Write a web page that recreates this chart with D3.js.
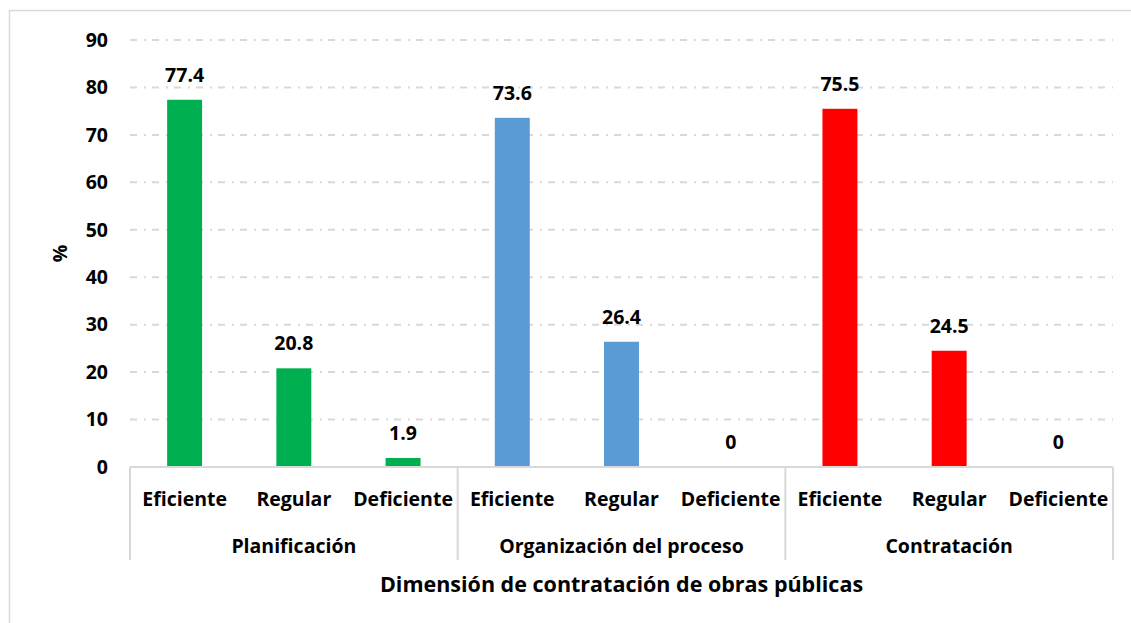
<!DOCTYPE html>
<html>
<head>
<meta charset="utf-8">
<script src="https://cdn.jsdelivr.net/npm/d3@7"></script>
<style>
  body { margin: 0; background: #fff; }
  text { font-family: "Open Sans", sans-serif; font-weight: bold; fill: #000; }
</style>
</head>
<body>
<script>
// data
var groups = ['Planificación', 'Organización del proceso', 'Contratación']
var levels = ['Eficiente', 'Regular', 'Deficiente']
var planificacion = [77.4, 20.8, 1.9]
var organizacion = [73.6, 26.4, 0]
var contratacion = [75.5, 24.5, 0]
var groupColors = ['#00b050', '#5b9bd5', '#ff0000']
var yTicks = [0, 10, 20, 30, 40, 50, 60, 70, 80, 90]

var seriesByGroup = [planificacion, organizacion, contratacion]
var rows = []
groups.forEach((g, gi) => {
  levels.forEach((l, li) => {
    rows.push({group: g, level: l, key: gi + '-' + li, value: seriesByGroup[gi][li], color: groupColors[gi]})
  })
})

var W = 1131, H = 623
var mLeft = 130, mRight = 1113, mTop = 40, mBottom = 467
var fs = '19.5px'

var svg = d3.select('body').append('svg').attr('width', W).attr('height', H)

// chart frame
svg.append('rect')
  .attr('x', 9.5).attr('y', 10.5).attr('width', W + 20).attr('height', H + 20)
  .attr('fill', 'none').attr('stroke', '#d9d9d9').attr('stroke-width', 1.5)

var y = d3.scaleLinear().domain([0, 90]).range([mBottom, mTop])
var x = d3.scaleBand().domain(rows.map(d => d.key)).range([mLeft, mRight])
var gx = d3.scaleBand().domain(groups).range([mLeft, mRight])

// gridlines
svg.append('g').selectAll('line')
  .data(yTicks.filter(t => t > 0))
  .enter().append('line')
    .attr('x1', mLeft).attr('x2', mRight)
    .attr('y1', d => y(d)).attr('y2', d => y(d))
    .attr('stroke', '#d9d9d9').attr('stroke-width', 2)
    .attr('stroke-dasharray', '7,7,2,6')

// y axis labels
var yAxis = svg.append('g')
  .attr('transform', `translate(${mLeft - 22},0)`)
  .call(d3.axisLeft(y).tickValues(yTicks).tickSize(0).tickPadding(0))
yAxis.select('.domain').remove()
yAxis.selectAll('text')
  .style('font-size', fs).style('font-family', '"Open Sans", sans-serif').style('font-weight', 'bold')
  .attr('fill', '#000')

svg.append('text')
  .attr('transform', `translate(67,${(mTop + mBottom) / 2}) rotate(-90)`)
  .attr('text-anchor', 'middle')
  .style('font-size', fs)
  .text('%')

// bars
var bw = x.bandwidth() * 0.32
svg.append('g').selectAll('rect')
  .data(rows)
  .enter().append('rect')
    .attr('x', d => x(d.key) + (x.bandwidth() - bw) / 2)
    .attr('y', d => y(d.value))
    .attr('width', bw)
    .attr('height', d => mBottom - y(d.value))
    .attr('fill', d => d.color)

// value labels
svg.append('g').selectAll('text')
  .data(rows)
  .enter().append('text')
    .attr('x', d => x(d.key) + x.bandwidth() / 2)
    .attr('y', d => y(d.value) - 18)
    .attr('text-anchor', 'middle')
    .style('font-size', fs)
    .text(d => d.value)

// category axis: baseline + group separators
svg.append('line')
  .attr('x1', mLeft).attr('x2', mRight).attr('y1', mBottom).attr('y2', mBottom)
  .attr('stroke', '#d9d9d9').attr('stroke-width', 2)

var seps = groups.map(g => gx(g)).concat([mRight])
svg.append('g').selectAll('line')
  .data(seps)
  .enter().append('line')
    .attr('x1', d => d).attr('x2', d => d)
    .attr('y1', mBottom).attr('y2', 560)
    .attr('stroke', '#d9d9d9').attr('stroke-width', 2)

svg.append('g').selectAll('text')
  .data(rows)
  .enter().append('text')
    .attr('x', d => x(d.key) + x.bandwidth() / 2)
    .attr('y', 506)
    .attr('text-anchor', 'middle')
    .style('font-size', fs)
    .text(d => d.level)

svg.append('g').selectAll('text')
  .data(groups)
  .enter().append('text')
    .attr('x', d => gx(d) + gx.bandwidth() / 2)
    .attr('y', 553)
    .attr('text-anchor', 'middle')
    .style('font-size', fs)
    .text(d => d)

svg.append('text')
  .attr('x', (mLeft + mRight) / 2)
  .attr('y', 592)
  .attr('text-anchor', 'middle')
  .style('font-size', '21.5px')
  .text('Dimensión de contratación de obras públicas')
</script>
</body>
</html>
